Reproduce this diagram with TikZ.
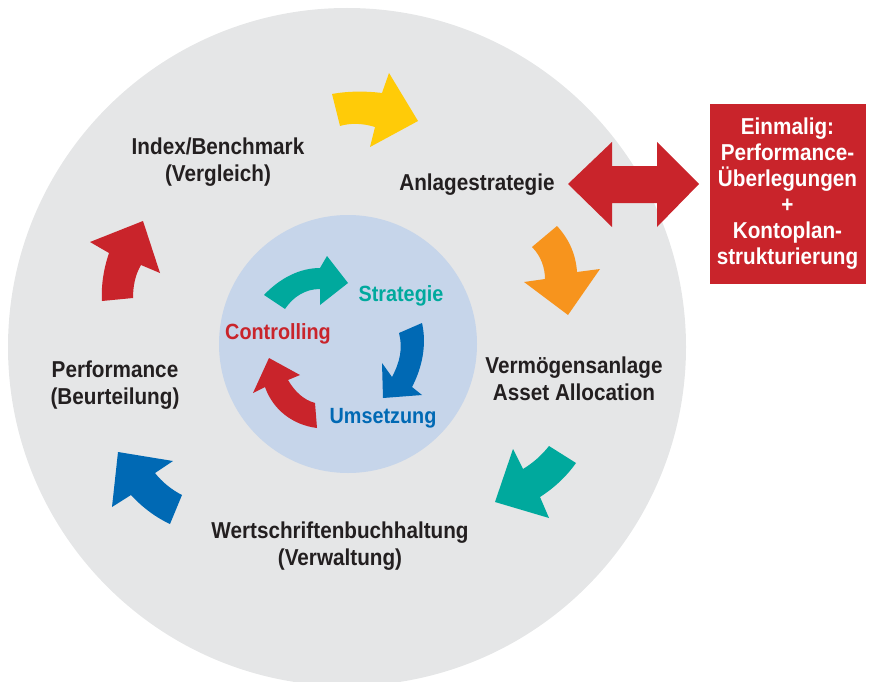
\documentclass[tikz,border=0pt]{standalone}
\usepackage{fontspec}
\setmainfont{Liberation Sans}[FakeStretch=0.9]
\definecolor{bggray}{HTML}{E5E6E7}
\definecolor{innerblue}{HTML}{C6D5EA}
\definecolor{txt}{HTML}{231F20}
\definecolor{cyellow}{HTML}{FFCB08}
\definecolor{corange}{HTML}{F7941D}
\definecolor{cteal}{HTML}{00A99D}
\definecolor{cblue}{HTML}{0069B4}
\definecolor{cred}{HTML}{C9242B}
\begin{document}
\begin{tikzpicture}[x=1pt,y=-1pt,
  lbl/.style={font=\fontsize{23}{27}\selectfont\bfseries, text=txt, align=center, inner sep=0pt},
  ilbl/.style={font=\fontsize{22}{24}\selectfont\bfseries, align=center, inner sep=0pt},
  boxlbl/.style={font=\fontsize{23}{26}\selectfont\bfseries, text=white, align=center, fill=cred, minimum width=156pt, minimum height=180pt, inner sep=0pt}]
\useasboundingbox (0,0) rectangle (870,682);
\clip (0,0) rectangle (870,682);
% circles
\fill[bggray] (347,347) circle (339pt);
\fill[innerblue] (348,344) circle (129pt);
% outer curved arrows
\fill[cyellow] (332,94) .. controls (348,91) and (366,91) .. (382,93) -- (389,73) -- (418,121) -- (370,147) -- (375,127) .. controls (362,123) and (350,123) .. (340,126) -- cycle;
\fill[corange] (532,247) -- (557,226) .. controls (570,240) and (576,256) .. (577,272) -- (600,269) -- (568,315) -- (524,282) -- (545,279) .. controls (545,268) and (541,256) .. (532,247) -- cycle;
\fill[cteal] (549,446) -- (576,463) .. controls (566,477) and (554,488) .. (540,497) -- (549,518) -- (495,502) -- (513,449) -- (523,469) .. controls (533,463) and (542,455) .. (549,446) -- cycle;
\fill[cblue] (173,461) -- (118,452) -- (112,507) -- (131,495) .. controls (142,507) and (155,517) .. (170,524) -- (182,495) .. controls (172,490) and (162,482) .. (155,473) -- cycle;
\fill[cred] (90,242) -- (143,221) -- (160,273) -- (141,265) .. controls (135,275) and (133,287) .. (133,298) -- (102,301) .. controls (101,284) and (104,268) .. (109,253) -- cycle;
% inner curved arrows
\fill[cteal] (264,295) .. controls (280,278) and (300,268) .. (320,268) -- (327,256) -- (348,283) -- (320,305) -- (320,289) .. controls (305,289) and (293,297) .. (285,309) -- cycle;
\fill[cblue] (399,333) -- (422,323) .. controls (427,345) and (422,368) .. (412,387) -- (422,395) -- (383,398) -- (382,363) -- (392,377) .. controls (400,362) and (403,348) .. (399,333) -- cycle;
\fill[cred] (269,358) -- (300,375) -- (288,380) .. controls (295,392) and (304,400) .. (315,403) -- (317,428) .. controls (293,425) and (273,410) .. (265,387) -- (253,393) -- cycle;
% double arrow
\fill[cred] (568,184) -- (612,142) -- (612,166) -- (657,166) -- (657,142) -- (699,184) -- (657,227) -- (657,203) -- (612,203) -- (612,227) -- cycle;
% labels
\node[lbl] (index) at (218,162) {Index/Benchmark\\(Vergleich)};
\node[lbl] (anlage) at (477,185) {Anlagestrategie};
\node[lbl] (verm) at (574,379) {Vermögensanlage\\Asset Allocation};
\node[lbl] (wert) at (340,546) {Wertschriftenbuchhaltung\\(Verwaltung)};
\node[lbl] (perf) at (115,385) {Performance\\(Beurteilung)};
\node[ilbl, text=cteal] (strat) at (401,296) {Strategie};
\node[ilbl, text=cred] (contr) at (278,334) {Controlling};
\node[ilbl, text=cblue] (umsetz) at (383,418) {Umsetzung};
\node[boxlbl] (box) at (787.5,194) {Einmalig:\\Performance-\\Überlegungen\\+\\Kontoplan-\\strukturierung};
\end{tikzpicture}
\end{document}
